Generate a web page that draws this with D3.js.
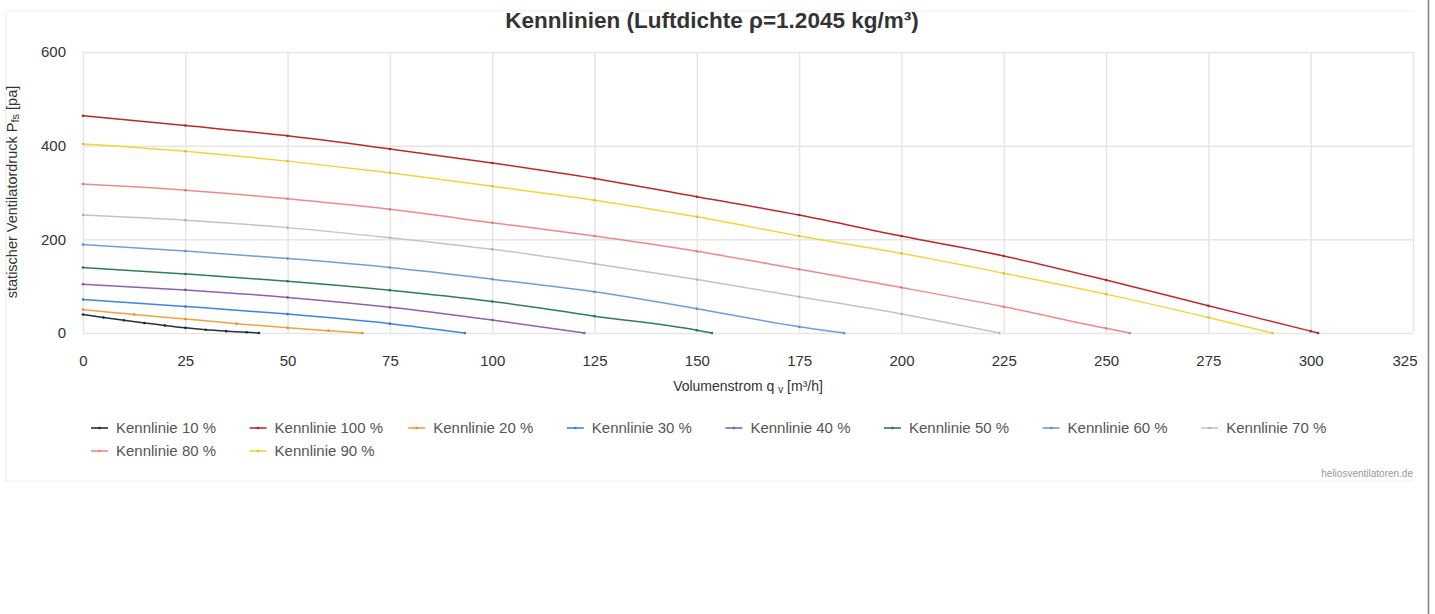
<!DOCTYPE html>
<html>
<head>
    <meta charset="utf-8">
    <title>Kennlinien</title>
    <style type="text/css">
        body{
            margin: 0;
            background-color: #fff;
            font-family: "Liberation Sans", Arial, sans-serif;
        }
        .grid line{
            stroke: #e6e6e6;
            stroke-width: 1.5px;
        }
        .grid path{
            display: none;
        }
        .axis text{
            fill: #333;
            font-size: 15px;
        }
        .axis path, .axis line{
            display: none;
        }
        .legend text{
            fill: #555;
            font-size: 15px;
        }
    </style>
    <script type="text/javascript" src="https://cdn.jsdelivr.net/npm/d3@7/dist/d3.min.js"></script>
</head>
<body>

    <div id="chart"></div>

    <script type="text/javascript">
        // values
        var xTicks = [0,25,50,75,100,125,150,175,200,225,250,275,300,325];
        var yTicks = [0,200,400,600];

        var names = ['Kennlinie 10 %','Kennlinie 100 %','Kennlinie 20 %','Kennlinie 30 %','Kennlinie 40 %',
                     'Kennlinie 50 %','Kennlinie 60 %','Kennlinie 70 %','Kennlinie 80 %','Kennlinie 90 %'];
        var colors = ['#22303f','#c0282d','#f2a33a','#3d85e0','#9060b0',
                      '#2e8050','#6f9fd8','#c4c4c4','#f08a8a','#f3d43a'];

        var q10 = [0,5,10,15,20,25,30,35,40,43];
        var p10 = [39.5,33,27,21.5,16,11,7,4,1.5,0];
        var q100 = [0,25,50,75,100,125,150,175,200,225,250,275,300,301.8];
        var p100 = [464,443,421,393,363,330,291,252,207,164.5,113,58,4,0];
        var q20 = [0,12.5,25,37.5,50,60,68.3];
        var p20 = [50,39.5,30,20,11,5,0];
        var q30 = [0,25,50,75,93.3];
        var p30 = [71.5,56.7,40.4,20,0];
        var q40 = [0,25,50,75,100,122.5];
        var p40 = [104,92,76,55,27.7,0];
        var q50 = [0,25,50,75,100,125,150,153.7];
        var p50 = [139.7,126,110.6,91.5,67.4,36,6,0];
        var q60 = [0,25,50,75,100,125,150,175,186];
        var p60 = [189,175,159,140,115,88,52,13.5,0];
        var q70 = [0,25,50,75,100,125,150,175,200,223.9];
        var p70 = [252,241,225,203.5,178.7,148,114,77.4,40.5,0];
        var q80 = [0,25,50,75,100,125,150,175,200,225,250,255.8];
        var p80 = [318,305,286.5,264,235.5,207,174.5,136,97,56,10,0];
        var q90 = [0,25,50,75,100,125,150,175,200,225,250,275,290.6];
        var p90 = [403.5,388,367,342,313.5,283.7,248,207,170,127.6,83,33,0];

        var qs = [q10,q100,q20,q30,q40,q50,q60,q70,q80,q90];
        var ps = [p10,p100,p20,p30,p40,p50,p60,p70,p80,p90];

        var width = 1435, height = 614;
        var plotLeft = 83, plotRight = 1413, plotTop = 52, plotBottom = 333;

        var series = names.map(function(n,i){
            return {
                name: n,
                color: colors[i],
                points: qs[i].map(function(q,j){ return {q: q, p: ps[i][j]}; })
            };
        });

        var svg = d3.select('#chart')
            .append('svg')
            .attr('width', width)
            .attr('height', height);

        // frame
        svg.append('line').attr('x1',6).attr('x2',plotRight).attr('y1',11).attr('y2',11)
            .attr('stroke','#efefef').attr('stroke-width',1);
        svg.append('line').attr('x1',6).attr('x2',6).attr('y1',11).attr('y2',481)
            .attr('stroke','#e8e8e8').attr('stroke-width',1);
        svg.append('line').attr('x1',6).attr('x2',plotRight).attr('y1',481).attr('y2',481)
            .attr('stroke','#f0f0f0').attr('stroke-width',1);
        svg.append('line').attr('x1',1428.5).attr('x2',1428.5).attr('y1',0).attr('y2',height)
            .attr('stroke','#808080').attr('stroke-width',1.5);

        var xScale = d3.scaleLinear().domain([0,325]).range([plotLeft,plotRight]);
        var yScale = d3.scaleLinear().domain([0,600]).range([plotBottom,plotTop]);

        // grid
        svg.append('g').attr('class','grid')
            .attr('transform','translate(0,' + plotBottom + ')')
            .call(d3.axisBottom(xScale).tickValues(xTicks).tickSize(-(plotBottom-plotTop)).tickFormat(''));
        svg.append('g').attr('class','grid')
            .attr('transform','translate(' + plotLeft + ',0)')
            .call(d3.axisLeft(yScale).tickValues(yTicks).tickSize(-(plotRight-plotLeft)).tickFormat(''));

        // axis labels
        var xAxisG = svg.append('g').attr('class','axis')
            .attr('transform','translate(0,' + plotBottom + ')')
            .call(d3.axisBottom(xScale).tickValues(xTicks).tickSize(0).tickPadding(22).tickFormat(d3.format('d')));
        xAxisG.selectAll('.tick').filter(function(d){ return d === 325; })
            .select('text').attr('text-anchor','end').attr('dx', 4);

        svg.append('g').attr('class','axis')
            .attr('transform','translate(' + plotLeft + ',0)')
            .call(d3.axisLeft(yScale).tickValues(yTicks).tickSize(0).tickPadding(17).tickFormat(d3.format('d')));

        // title
        svg.append('text')
            .attr('x', 712).attr('y', 28)
            .attr('text-anchor','middle')
            .style('font-size','22.5px').style('font-weight','bold').style('fill','#333')
            .text('Kennlinien (Luftdichte ρ=1.2045 kg/m³)');

        var xt = svg.append('text')
            .attr('x', (plotLeft+plotRight)/2).attr('y', 391)
            .attr('text-anchor','middle')
            .style('font-size','14px').style('fill','#333');
        xt.append('tspan').text('Volumenstrom q ');
        xt.append('tspan').style('font-size','10px').attr('dy',2).text('v');
        xt.append('tspan').attr('dy',-2).text(' [m³/h]');

        var yt = svg.append('text')
            .attr('transform','translate(17,' + 192 + ') rotate(-90)')
            .attr('text-anchor','middle')
            .style('font-size','14.5px').style('fill','#333');
        yt.append('tspan').text('statischer Ventilatordruck P');
        yt.append('tspan').style('font-size','11px').attr('dy',2).text('fs');
        yt.append('tspan').attr('dy',-2).text(' [pa]');

        // lines
        var line = d3.line()
            .x(function(d){ return xScale(d.q); })
            .y(function(d){ return yScale(d.p); })
            .curve(d3.curveMonotoneX);

        var g = svg.selectAll('.serie')
            .data(series)
            .enter()
            .append('g')
            .attr('class','serie');

        g.append('path')
            .attr('d', function(d){ return line(d.points); })
            .attr('fill','none')
            .attr('stroke', function(d){ return d.color; })
            .attr('stroke-width', 1.5);

        g.selectAll('circle')
            .data(function(d){ return d.points.map(function(p){ return {q: p.q, p: p.p, color: d.color}; }); })
            .enter()
            .append('circle')
            .attr('cx', function(d){ return xScale(d.q); })
            .attr('cy', function(d){ return yScale(d.p); })
            .attr('r', 1.3)
            .attr('fill', function(d){ return d3.color(d.color).darker(0.3); });

        // legend
        var legend = svg.selectAll('.legend')
            .data(series)
            .enter()
            .append('g')
            .attr('class','legend')
            .attr('transform', function(d,i){
                var col = i % 8, row = Math.floor(i / 8);
                return 'translate(' + (91 + col*158.6) + ',' + (428 + row*23) + ')';
            });
        legend.append('line')
            .attr('x1',0).attr('x2',17).attr('y1',0).attr('y2',0)
            .attr('stroke', function(d){ return d.color; })
            .attr('stroke-width',1.6);
        legend.append('circle')
            .attr('cx',8.5).attr('cy',0).attr('r',1.3)
            .attr('fill', function(d){ return d3.color(d.color).darker(0.3); });
        legend.append('text')
            .attr('x',25).attr('y',5)
            .text(function(d){ return d.name; });

        svg.append('text')
            .attr('x', plotRight).attr('y', 477)
            .attr('text-anchor','end')
            .style('font-size','10px').style('fill','#999')
            .text('heliosventilatoren.de');
    </script>

</body>
</html>
